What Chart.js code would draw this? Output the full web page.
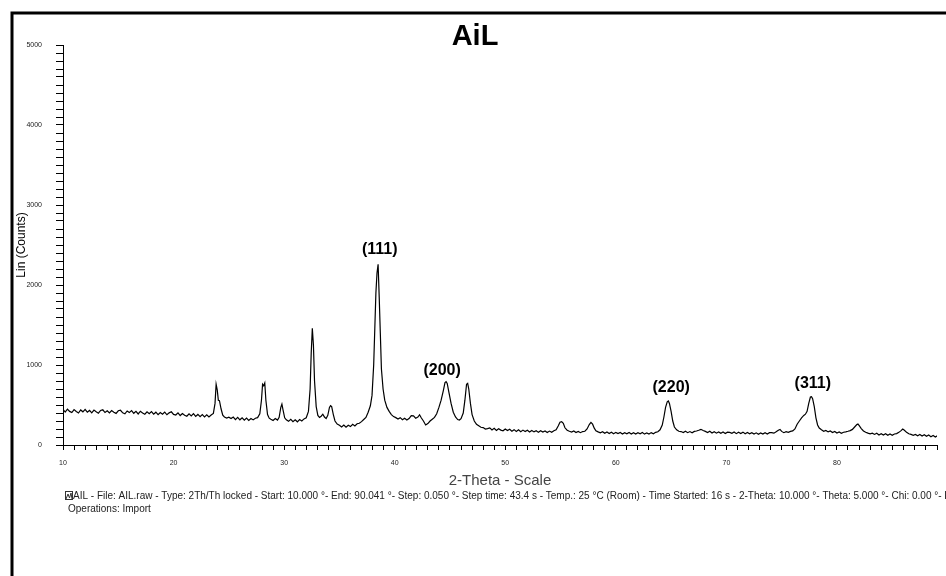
<!DOCTYPE html>
<html>
<head>
<meta charset="utf-8">
<script src="https://cdn.jsdelivr.net/npm/chart.js@4"></script>
<style>
  html, body { margin: 0; padding: 0; background: #fff; }
  #wrap { width: 946px; height: 576px; }
</style>
</head>
<body>
<div id="wrap"><canvas id="xrd" width="946" height="576"></canvas></div>
<script>
// values (2-theta in degrees, Lin counts)
const twoTheta = [
  10.0, 10.2, 10.4, 10.6, 10.8, 11.0, 11.2, 11.4, 11.6, 11.8,
  12.0, 12.2, 12.4, 12.6, 12.8, 13.0, 13.2, 13.4, 13.6, 13.8,
  14.0, 14.2, 14.4, 14.6, 14.8, 15.0, 15.2, 15.4, 15.6, 15.8,
  16.0, 16.2, 16.4, 16.6, 16.8, 17.0, 17.2, 17.4, 17.6, 17.8,
  18.0, 18.2, 18.4, 18.6, 18.8, 19.0, 19.2, 19.4, 19.6, 19.8,
  20.0, 20.2, 20.4, 20.6, 20.8, 21.0, 21.2, 21.4, 21.6, 21.8,
  22.0, 22.2, 22.4, 22.6, 22.8, 23.0, 23.2, 23.4, 23.6, 23.75,
  23.85, 23.95, 24.05, 24.15, 24.3, 24.45, 24.6, 24.8, 25.0, 25.2,
  25.4, 25.6, 25.8, 26.0, 26.2, 26.4, 26.6, 26.8, 27.0, 27.2,
  27.4, 27.6, 27.8, 27.95, 28.05, 28.15, 28.25, 28.35, 28.5, 28.65,
  28.8, 29.0, 29.2, 29.4, 29.55, 29.7, 29.8, 29.9, 30.05, 30.2,
  30.4, 30.6, 30.8, 31.0, 31.2, 31.4, 31.6, 31.8, 32.0, 32.2,
  32.35, 32.45, 32.55, 32.65, 32.75, 32.9, 33.05, 33.2, 33.35, 33.5,
  33.65, 33.8, 33.95, 34.1, 34.2, 34.3, 34.45, 34.6, 34.8, 35.0,
  35.2, 35.4, 35.6, 35.8, 36.0, 36.2, 36.4, 36.6, 36.8, 37.0,
  37.2, 37.4, 37.6, 37.8, 37.95, 38.1, 38.2, 38.3, 38.4, 38.5,
  38.6, 38.7, 38.8, 38.95, 39.1, 39.3, 39.5, 39.7, 39.9, 40.1,
  40.3, 40.5, 40.7, 40.9, 41.1, 41.3, 41.5, 41.7, 41.9, 42.1,
  42.25, 42.4, 42.6, 42.8, 43.0, 43.2, 43.4, 43.6, 43.8, 44.0,
  44.2, 44.4, 44.55, 44.65, 44.75, 44.9, 45.1, 45.3, 45.5, 45.7,
  45.85, 46.0, 46.2, 46.35, 46.5, 46.6, 46.7, 46.85, 47.0, 47.2,
  47.4, 47.6, 47.8, 48.0, 48.2, 48.4, 48.6, 48.8, 49.0, 49.2,
  49.4, 49.6, 49.8, 50.0, 50.2, 50.4, 50.6, 50.8, 51.0, 51.2,
  51.4, 51.6, 51.8, 52.0, 52.2, 52.4, 52.6, 52.8, 53.0, 53.2,
  53.4, 53.6, 53.8, 54.0, 54.2, 54.4, 54.6, 54.8, 54.95, 55.1,
  55.25, 55.4, 55.6, 55.8, 56.0, 56.2, 56.4, 56.6, 56.8, 57.0,
  57.2, 57.4, 57.6, 57.75, 57.9, 58.05, 58.2, 58.4, 58.6, 58.8,
  59.0, 59.2, 59.4, 59.6, 59.8, 60.0, 60.2, 60.4, 60.6, 60.8,
  61.0, 61.2, 61.4, 61.6, 61.8, 62.0, 62.2, 62.4, 62.6, 62.8,
  63.0, 63.2, 63.4, 63.6, 63.8, 64.0, 64.2, 64.35, 64.5, 64.65,
  64.75, 64.85, 65.0, 65.15, 65.3, 65.5, 65.7, 65.9, 66.1, 66.3,
  66.5, 66.7, 66.9, 67.1, 67.3, 67.5, 67.7, 67.9, 68.1, 68.3,
  68.5, 68.7, 68.9, 69.1, 69.3, 69.5, 69.7, 69.9, 70.1, 70.3,
  70.5, 70.7, 70.9, 71.1, 71.3, 71.5, 71.7, 71.9, 72.1, 72.3,
  72.5, 72.7, 72.9, 73.1, 73.3, 73.5, 73.7, 73.9, 74.1, 74.3,
  74.5, 74.7, 74.85, 75.0, 75.2, 75.4, 75.6, 75.8, 76.0, 76.2,
  76.4, 76.6, 76.8, 77.0, 77.15, 77.3, 77.45, 77.6, 77.7, 77.8,
  77.95, 78.1, 78.25, 78.4, 78.6, 78.8, 79.0, 79.2, 79.4, 79.6,
  79.8, 80.0, 80.2, 80.4, 80.6, 80.8, 81.0, 81.2, 81.4, 81.6,
  81.8, 81.9, 82.0, 82.2, 82.4, 82.6, 82.8, 83.0, 83.2, 83.4,
  83.6, 83.8, 84.0, 84.2, 84.4, 84.6, 84.8, 85.0, 85.2, 85.4,
  85.6, 85.8, 85.95, 86.1, 86.3, 86.5, 86.7, 86.9, 87.1, 87.3,
  87.5, 87.7, 87.9, 88.1, 88.3, 88.5, 88.7, 88.9, 89.1, 89.3,
  89.5, 89.7, 90.0
];
const counts = [
  445, 412, 448, 420, 405, 442, 418, 400, 438, 415,
  446, 410, 432, 402, 436, 415, 398, 432, 440, 406,
  428, 400, 430, 410, 395, 428, 434, 402, 390, 425,
  405, 430, 396, 420, 388, 422, 400, 385, 415, 392,
  418, 386, 410, 380, 406, 385, 412, 378, 402, 415,
  382, 375, 402, 368, 394, 372, 360, 390, 364, 392,
  358, 382, 354, 380, 352, 376, 350, 374, 395, 520,
  760, 690, 560, 555, 450, 372, 350, 336, 348, 330,
  350, 318, 345, 315, 340, 310, 336, 308, 332, 314,
  334, 342, 390, 560, 760, 740, 775, 560, 380, 335,
  322, 306, 330, 312, 345, 470, 512, 440, 340, 315,
  296, 322, 292, 316, 290, 318, 300, 326, 340, 420,
  700, 1150, 1460, 1250, 800, 480, 370, 345, 360, 385,
  350, 330, 370, 470, 492, 480, 380, 300, 262, 248,
  226, 250, 222, 246, 230, 258, 238, 266, 272, 292,
  318, 345, 410, 490, 620, 1000, 1450, 1900, 2150, 2260,
  1850, 1400, 950, 700, 560, 470, 420, 380, 355, 342,
  324, 342, 316, 334, 312, 330, 368, 364, 335, 350,
  378, 340, 300, 250, 268, 300, 322, 345, 390, 470,
  560, 680, 780, 792, 770, 660, 520, 410, 350, 318,
  312, 330, 400, 560, 760, 771, 700, 520, 380, 300,
  258, 240, 222, 218, 200, 204, 214, 188, 208, 182,
  204, 186, 178, 200, 180, 196, 172, 192, 170, 190,
  166, 186, 168, 184, 162, 182, 164, 179, 158, 178,
  161, 176, 156, 174, 158, 178, 190, 240, 285, 292,
  270, 215, 185, 172, 162, 176, 156, 170, 154, 168,
  172, 200, 255, 283, 260, 210, 178, 164, 152, 166,
  146, 162, 144, 160, 141, 158, 142, 156, 138, 154,
  140, 157, 137, 153, 136, 154, 139, 156, 136, 152,
  138, 155, 140, 158, 165, 190, 250, 350, 470, 540,
  550, 520, 420, 300, 225, 190, 172, 168, 156, 172,
  154, 168, 152, 170, 175, 185, 196, 182, 170, 156,
  172, 151, 166, 148, 164, 146, 162, 144, 161, 158,
  146, 162, 142, 159, 144, 161, 141, 156, 139, 154,
  136, 152, 134, 150, 136, 154, 138, 154, 155, 148,
  165, 185, 195, 170, 154, 166, 158, 170, 176, 200,
  260, 300, 340, 370, 385, 420, 520, 600, 604, 580,
  480, 340, 250, 212, 190, 172, 182, 164, 176, 156,
  170, 150, 162, 146, 160, 165, 172, 180, 195, 225,
  255, 262, 245, 205, 175, 160, 148, 140, 148, 132,
  146, 126, 142, 124, 140, 121, 137, 122, 138, 142,
  158, 180, 200, 185, 158, 140, 132, 122, 132, 116,
  131, 112, 128, 108, 124, 104, 119, 100, 116, 98,
  114, 96, 106
];

const xTickLabels = [10, 20, 30, 40, 50, 60, 70, 80];
const yTickLabels = [0, 1000, 2000, 3000, 4000, 5000];

const peakLabels = ['(111)', '(200)', '(220)', '(311)'];
const peakLabelTheta = [38.65, 44.29, 65.01, 77.82];
const peakLabelCounts = [2444, 925, 712, 769];

const chartTitle = 'AiL';
const scanInfo = [
  'AIL - File: AIL.raw - Type: 2Th/Th locked - Start: 10.000 \u00b0- End: 90.041 \u00b0- Step: 0.050 \u00b0- Step time: 43.4 s - Temp.: 25 \u00b0C (Room) - Time Started: 16 s - 2-Theta: 10.000 \u00b0- Theta: 5.000 \u00b0- Chi: 0.00 \u00b0- Phi: 0.00 \u00b0- X: 0.0 mm',
  'Operations: Import'
];

const points = twoTheta.map((t, i) => ({ x: t, y: counts[i] }));

// frame, title, peak indices and the scan line under the plot
const decorations = {
  id: 'decorations',
  afterDraw(chart) {
    const ctx = chart.ctx;
    const xs = chart.scales.x;
    const ys = chart.scales.y;
    ctx.save();

    ctx.strokeStyle = '#000';
    ctx.lineWidth = 3;
    ctx.beginPath();
    ctx.moveTo(12, 576);
    ctx.lineTo(12, 13);
    ctx.lineTo(950, 13);
    ctx.stroke();

    ctx.fillStyle = '#000';
    ctx.textAlign = 'center';
    ctx.textBaseline = 'middle';
    ctx.font = 'bold 29px "Liberation Sans", Arial, sans-serif';
    ctx.fillText(chartTitle, 475, 37);

    ctx.font = 'bold 16px "Liberation Sans", Arial, sans-serif';
    peakLabels.forEach((label, i) => {
      ctx.fillText(label, xs.getPixelForValue(peakLabelTheta[i]), ys.getPixelForValue(peakLabelCounts[i]));
    });

    // little pattern icon before the scan description
    ctx.lineWidth = 1;
    ctx.strokeStyle = '#333';
    ctx.strokeRect(65.5, 491.5, 7, 8);
    ctx.beginPath();
    ctx.moveTo(66, 499);
    ctx.lineTo(68, 494);
    ctx.lineTo(69.5, 498);
    ctx.lineTo(71, 493);
    ctx.lineTo(72, 499);
    ctx.stroke();

    ctx.fillStyle = '#222';
    ctx.textAlign = 'left';
    ctx.font = '10px "Liberation Sans", Arial, sans-serif';
    ctx.fillText(scanInfo[0], 73, 496);
    ctx.fillText(scanInfo[1], 68, 509);
    ctx.restore();
  }
};

new Chart(document.getElementById('xrd'), {
  type: 'line',
  data: {
    datasets: [{
      label: 'AIL',
      data: points,
      borderColor: '#000',
      borderWidth: 1.2,
      pointRadius: 0,
      tension: 0,
      fill: false
    }]
  },
  options: {
    responsive: false,
    animation: false,
    devicePixelRatio: 1,
    layout: { padding: { top: 45, left: 0, right: 0, bottom: 0 } },
    plugins: {
      legend: { display: false },
      tooltip: { enabled: false },
      title: { display: false }
    },
    scales: {
      x: {
        type: 'linear',
        min: 10,
        max: 89.05,
        afterFit: (scale) => { scale.height = 131; },
        border: { display: true, color: '#000', width: 1 },
        grid: { drawOnChartArea: false, drawTicks: true, tickLength: 5, color: '#000' },
        ticks: {
          stepSize: 1,
          autoSkip: false,
          maxRotation: 0,
          padding: 9,
          color: '#222',
          font: { size: 7, family: '"Liberation Sans", Arial, sans-serif' },
          callback: (v) => xTickLabels.includes(v) ? String(v) : ''
        },
        title: {
          display: true,
          text: '2-Theta - Scale',
          color: '#444',
          font: { size: 15, family: '"Liberation Sans", Arial, sans-serif' },
          padding: { top: 0, bottom: 86 }
        }
      },
      y: {
        min: 0,
        max: 5000,
        afterFit: (scale) => { scale.width = 63; },
        border: { display: true, color: '#000', width: 1 },
        grid: { drawOnChartArea: false, drawTicks: true, tickLength: 7, color: '#000' },
        ticks: {
          stepSize: 100,
          autoSkip: false,
          padding: 14,
          color: '#222',
          font: { size: 7, family: '"Liberation Sans", Arial, sans-serif' },
          callback: (v) => yTickLabels.includes(v) ? String(v) : ''
        },
        title: {
          display: true,
          text: 'Lin (Counts)',
          color: '#000',
          font: { size: 12, family: '"Liberation Sans", Arial, sans-serif' },
          padding: { top: 14, bottom: 0 }
        }
      }
    }
  },
  plugins: [decorations]
});
</script>
</body>
</html>
